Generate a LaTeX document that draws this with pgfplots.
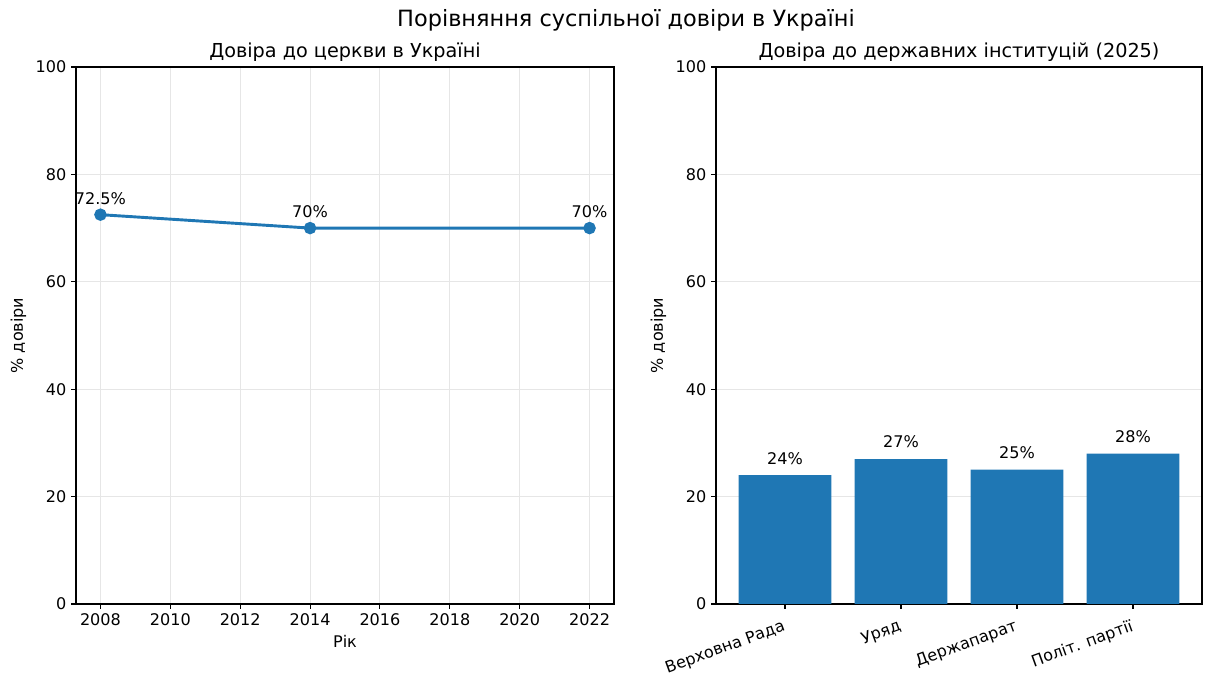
\documentclass[border=0pt]{standalone}
\usepackage{pgfplots}
\pgfplotsset{compat=1.18}
\usepackage{fontspec}
\setmainfont{DejaVu Sans}
\definecolor{tabblue}{HTML}{1F77B4}
\definecolor{gridgray}{HTML}{E6E6E6}
\pgfplotsset{
  every axis/.append style={
    scale only axis,
    axis line style={black, line width=0.8bp},
    tick style={black, line width=0.8bp},
    tick align=outside,
    tick pos=left,
    major tick length=3.5bp,
    /pgf/number format/assume math mode=true,
    /pgf/number format/1000 sep={},
    tick label style={font=\fontsize{11.6}{13.9}\selectfont},
    label style={font=\fontsize{11.6}{13.9}\selectfont},
    title style={font=\fontsize{13.9}{16.7}\selectfont, at={(0.5,1)}, anchor=base, yshift=1.2bp},
    major grid style={gridgray, line width=0.8bp},
    ymin=0, ymax=100,
    ytick={0,20,40,60,80,100},
    anchor=south west,
  },
}
\begin{document}
\begin{tikzpicture}
\useasboundingbox (0,0) rectangle (870.48bp,486bp);
\node[anchor=base, font=\fontsize{16.2}{19.4}\selectfont] at (450.72bp,466.56bp) {Порівняння суспільної довіри в Україні};
\begin{axis}[
  at={(54.72bp,51.12bp)},
  width=387.36bp, height=386.64bp,
  xmin=2007.3, xmax=2022.7,
  xtick={2008,2010,2012,2014,2016,2018,2020,2022},
  grid=major,
  title={Довіра до церкви в Україні},
  xlabel={Рік},
  ylabel={\% довіри},
  nodes near coords={\pgfmathprintnumber{\pgfplotspointmeta}\%},
  point meta=y,
  every node near coord/.append style={font=\fontsize{11.6}{13.9}\selectfont, text=black, anchor=base, inner sep=0pt, yshift=7.5bp},
]
\addplot[color=tabblue, line width=2.1bp, mark=*, mark size=3.4bp, mark options={fill=tabblue, draw=tabblue}] coordinates {
  (2008,72.5) (2014,70) (2022,70)
};
\end{axis}
\begin{axis}[
  at={(515.52bp,51.12bp)},
  width=349.92bp, height=386.64bp,
  xmin=-0.595, xmax=3.595,
  xtick={0,1,2,3},
  xticklabels={Верховна Рада, Уряд, Держапарат, Політ. партії},
  xticklabel style={rotate=20, anchor=north east, inner sep=1bp, yshift=-5bp, xshift=-3.5bp},
  ymajorgrids=true,
  title={Довіра до державних інституцій (2025)},
  ylabel={\% довіри},
  nodes near coords={\pgfmathprintnumber{\pgfplotspointmeta}\%},
  point meta=y,
  every node near coord/.append style={font=\fontsize{11.6}{13.9}\selectfont, text=black, anchor=base, inner sep=0pt, yshift=8bp},
]
\addplot[ybar, bar width=0.8, bar shift=0pt, fill=tabblue, draw=none] coordinates {
  (0,24) (1,27) (2,25) (3,28)
};
\end{axis}
\end{tikzpicture}
\end{document}
